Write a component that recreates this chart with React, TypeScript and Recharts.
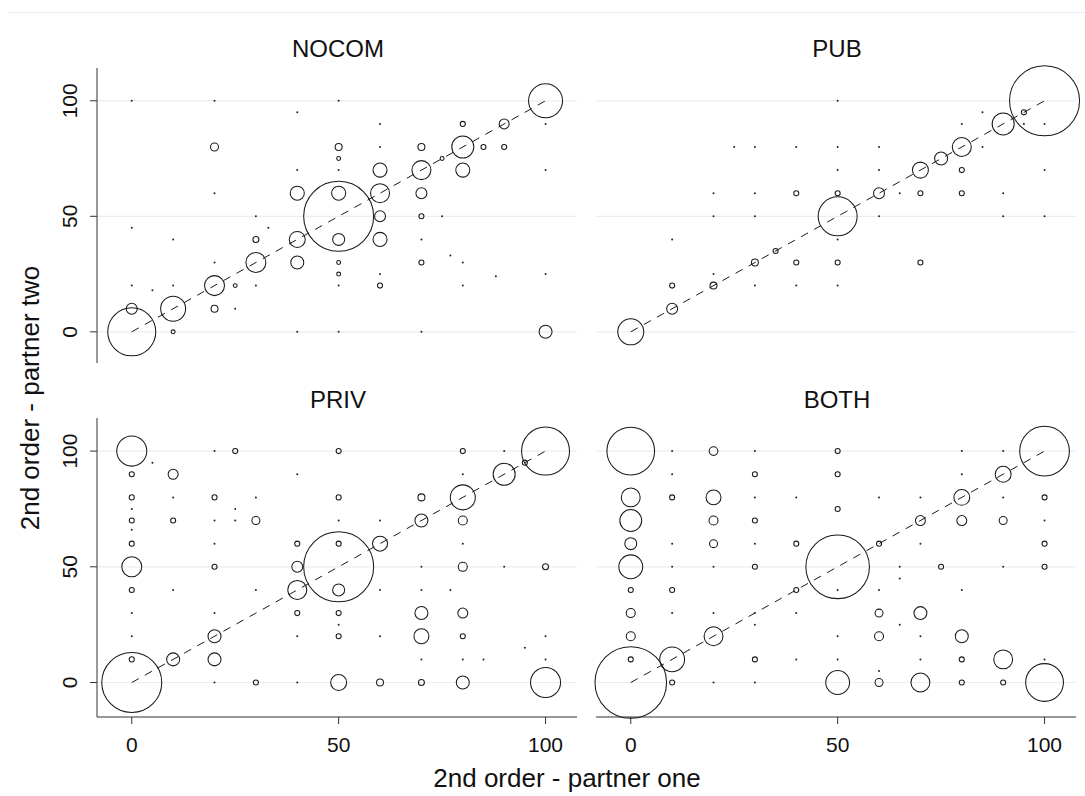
import React from "react";
import { ScatterChart, Scatter, XAxis, YAxis, ZAxis, ReferenceLine } from "recharts";

// ---------- data ----------
// each point: x = partner one, y = partner two, n = frequency (bubble area)
const nocomPoints = [
  { x: 0, y: 100, n: 1 }, { x: 20, y: 100, n: 1 }, { x: 50, y: 100, n: 1 }, { x: 40, y: 95, n: 1 },
  { x: 20, y: 80, n: 25 }, { x: 50, y: 80, n: 19 }, { x: 50, y: 75, n: 6 }, { x: 40, y: 70, n: 1 }, { x: 50, y: 70, n: 1 },
  { x: 20, y: 60, n: 1 }, { x: 40, y: 60, n: 77 }, { x: 50, y: 60, n: 77 },
  { x: 30, y: 50, n: 1 }, { x: 0, y: 45, n: 1 }, { x: 10, y: 40, n: 1 }, { x: 33, y: 45, n: 1 },
  { x: 30, y: 40, n: 14 }, { x: 40, y: 40, n: 100 }, { x: 50, y: 40, n: 56 },
  { x: 30, y: 30, n: 156 }, { x: 40, y: 30, n: 66 }, { x: 50, y: 30, n: 6 }, { x: 50, y: 25, n: 6 }, { x: 20, y: 30, n: 1 },
  { x: 20, y: 20, n: 156 }, { x: 25, y: 20, n: 6 }, { x: 0, y: 20, n: 1 }, { x: 10, y: 20, n: 1 }, { x: 30, y: 20, n: 1 },
  { x: 50, y: 20, n: 1 }, { x: 5, y: 18, n: 1 },
  { x: 10, y: 10, n: 244 }, { x: 0, y: 10, n: 47 }, { x: 20, y: 10, n: 19 }, { x: 25, y: 10, n: 1 },
  { x: 0, y: 0, n: 900 }, { x: 10, y: 0, n: 6 }, { x: 40, y: 0, n: 1 }, { x: 50, y: 0, n: 1 },
  { x: 100, y: 100, n: 452 }, { x: 60, y: 90, n: 1 }, { x: 80, y: 90, n: 10 }, { x: 90, y: 90, n: 39 }, { x: 100, y: 90, n: 1 },
  { x: 60, y: 80, n: 1 }, { x: 70, y: 80, n: 19 }, { x: 80, y: 80, n: 189 }, { x: 85, y: 80, n: 10 }, { x: 90, y: 80, n: 10 },
  { x: 75, y: 75, n: 6 }, { x: 60, y: 70, n: 77 }, { x: 70, y: 70, n: 141 }, { x: 80, y: 70, n: 77 }, { x: 100, y: 70, n: 1 },
  { x: 60, y: 60, n: 141 }, { x: 70, y: 60, n: 47 }, { x: 60, y: 50, n: 47 }, { x: 70, y: 50, n: 10 }, { x: 75, y: 50, n: 1 },
  { x: 60, y: 40, n: 77 }, { x: 70, y: 40, n: 1 }, { x: 77, y: 33, n: 1 }, { x: 80, y: 30, n: 1 }, { x: 70, y: 30, n: 10 },
  { x: 60, y: 25, n: 1 }, { x: 88, y: 24, n: 1 }, { x: 100, y: 25, n: 1 }, { x: 60, y: 20, n: 10 }, { x: 80, y: 20, n: 1 },
  { x: 70, y: 0, n: 1 }, { x: 100, y: 0, n: 66 }, { x: 50, y: 50, n: 1914 },
];

const pubPoints = [
  { x: 25, y: 80, n: 1 }, { x: 30, y: 80, n: 1 }, { x: 40, y: 80, n: 1 }, { x: 20, y: 60, n: 1 }, { x: 30, y: 60, n: 1 },
  { x: 40, y: 60, n: 10 }, { x: 20, y: 50, n: 1 }, { x: 30, y: 50, n: 1 }, { x: 10, y: 40, n: 1 }, { x: 10, y: 20, n: 10 },
  { x: 20, y: 25, n: 1 }, { x: 20, y: 20, n: 19 }, { x: 30, y: 20, n: 1 }, { x: 40, y: 20, n: 1 }, { x: 30, y: 30, n: 19 },
  { x: 40, y: 30, n: 10 }, { x: 35, y: 35, n: 10 }, { x: 10, y: 10, n: 47 }, { x: 0, y: 0, n: 264 },
  { x: 50, y: 100, n: 1 }, { x: 85, y: 95, n: 1 }, { x: 95, y: 95, n: 10 }, { x: 100, y: 100, n: 1914 }, { x: 80, y: 90, n: 1 },
  { x: 95, y: 90, n: 1 }, { x: 100, y: 90, n: 1 }, { x: 90, y: 90, n: 189 }, { x: 50, y: 80, n: 1 }, { x: 60, y: 80, n: 1 },
  { x: 80, y: 80, n: 141 }, { x: 85, y: 80, n: 1 }, { x: 75, y: 75, n: 66 }, { x: 50, y: 70, n: 1 }, { x: 60, y: 70, n: 1 },
  { x: 70, y: 70, n: 100 }, { x: 80, y: 70, n: 10 }, { x: 100, y: 70, n: 1 }, { x: 50, y: 60, n: 10 }, { x: 60, y: 60, n: 47 },
  { x: 65, y: 60, n: 1 }, { x: 70, y: 60, n: 10 }, { x: 80, y: 60, n: 10 }, { x: 90, y: 60, n: 1 }, { x: 50, y: 50, n: 594 },
  { x: 60, y: 50, n: 1 }, { x: 90, y: 50, n: 1 }, { x: 100, y: 50, n: 1 }, { x: 50, y: 40, n: 1 }, { x: 50, y: 30, n: 10 },
  { x: 70, y: 30, n: 10 }, { x: 50, y: 20, n: 1 },
];

const privPoints = [
  { x: 0, y: 100, n: 352 }, { x: 20, y: 100, n: 1 }, { x: 25, y: 100, n: 10 }, { x: 50, y: 100, n: 10 }, { x: 5, y: 95, n: 1 },
  { x: 0, y: 90, n: 10 }, { x: 10, y: 90, n: 39 }, { x: 40, y: 90, n: 1 },
  { x: 0, y: 80, n: 10 }, { x: 10, y: 80, n: 1 }, { x: 20, y: 80, n: 10 }, { x: 30, y: 80, n: 1 }, { x: 50, y: 80, n: 10 },
  { x: 0, y: 75, n: 1 }, { x: 25, y: 75, n: 1 },
  { x: 0, y: 70, n: 10 }, { x: 10, y: 70, n: 10 }, { x: 20, y: 70, n: 1 }, { x: 25, y: 70, n: 1 }, { x: 30, y: 70, n: 25 }, { x: 50, y: 70, n: 1 },
  { x: 0, y: 66, n: 1 },
  { x: 0, y: 60, n: 10 }, { x: 20, y: 60, n: 1 }, { x: 40, y: 60, n: 10 }, { x: 50, y: 60, n: 10 },
  { x: 0, y: 50, n: 156 }, { x: 20, y: 50, n: 10 }, { x: 40, y: 50, n: 47 },
  { x: 0, y: 40, n: 10 }, { x: 10, y: 40, n: 1 }, { x: 30, y: 40, n: 1 }, { x: 40, y: 40, n: 141 }, { x: 50, y: 40, n: 56 },
  { x: 0, y: 30, n: 1 }, { x: 20, y: 30, n: 1 }, { x: 40, y: 30, n: 10 }, { x: 50, y: 30, n: 10 }, { x: 50, y: 25, n: 1 },
  { x: 0, y: 20, n: 1 }, { x: 20, y: 20, n: 66 }, { x: 40, y: 20, n: 1 }, { x: 50, y: 20, n: 10 },
  { x: 0, y: 10, n: 10 }, { x: 10, y: 10, n: 66 }, { x: 20, y: 10, n: 66 },
  { x: 0, y: 0, n: 1406 }, { x: 20, y: 0, n: 1 }, { x: 30, y: 0, n: 10 }, { x: 40, y: 0, n: 1 }, { x: 50, y: 0, n: 100 },
  { x: 80, y: 100, n: 10 }, { x: 90, y: 100, n: 1 }, { x: 100, y: 100, n: 900 }, { x: 95, y: 95, n: 10 }, { x: 80, y: 90, n: 1 },
  { x: 90, y: 90, n: 189 },
  { x: 70, y: 80, n: 19 }, { x: 80, y: 80, n: 244 }, { x: 60, y: 70, n: 1 }, { x: 70, y: 70, n: 66 }, { x: 80, y: 70, n: 32 },
  { x: 60, y: 60, n: 88 }, { x: 80, y: 60, n: 1 }, { x: 70, y: 50, n: 1 }, { x: 80, y: 50, n: 32 }, { x: 90, y: 50, n: 1 },
  { x: 100, y: 50, n: 14 }, { x: 50, y: 50, n: 1914 },
  { x: 60, y: 40, n: 1 }, { x: 70, y: 40, n: 1 }, { x: 77, y: 40, n: 1 }, { x: 70, y: 30, n: 66 }, { x: 80, y: 30, n: 39 },
  { x: 60, y: 20, n: 1 }, { x: 70, y: 20, n: 88 }, { x: 80, y: 20, n: 10 }, { x: 100, y: 20, n: 1 }, { x: 95, y: 15, n: 1 },
  { x: 70, y: 10, n: 1 }, { x: 80, y: 10, n: 1 }, { x: 85, y: 10, n: 1 }, { x: 100, y: 10, n: 1 },
  { x: 60, y: 0, n: 19 }, { x: 70, y: 0, n: 14 }, { x: 80, y: 0, n: 66 }, { x: 100, y: 0, n: 352 },
];

const bothPoints = [
  { x: 0, y: 100, n: 900 }, { x: 10, y: 100, n: 1 }, { x: 20, y: 100, n: 30 }, { x: 30, y: 100, n: 1 }, { x: 50, y: 100, n: 10 },
  { x: 10, y: 90, n: 1 }, { x: 30, y: 90, n: 10 }, { x: 50, y: 90, n: 10 },
  { x: 0, y: 80, n: 141 }, { x: 10, y: 80, n: 10 }, { x: 20, y: 80, n: 88 }, { x: 30, y: 80, n: 1 }, { x: 40, y: 80, n: 1 },
  { x: 50, y: 75, n: 10 },
  { x: 0, y: 70, n: 189 }, { x: 20, y: 70, n: 32 }, { x: 30, y: 70, n: 10 },
  { x: 0, y: 60, n: 56 }, { x: 10, y: 60, n: 1 }, { x: 20, y: 60, n: 25 }, { x: 30, y: 60, n: 1 }, { x: 40, y: 60, n: 10 },
  { x: 0, y: 50, n: 225 }, { x: 10, y: 50, n: 1 }, { x: 20, y: 50, n: 1 }, { x: 30, y: 50, n: 10 },
  { x: 0, y: 40, n: 10 }, { x: 10, y: 40, n: 10 }, { x: 40, y: 40, n: 10 },
  { x: 0, y: 30, n: 32 }, { x: 10, y: 30, n: 1 }, { x: 20, y: 30, n: 1 }, { x: 30, y: 30, n: 1 }, { x: 40, y: 30, n: 1 },
  { x: 30, y: 25, n: 1 },
  { x: 0, y: 20, n: 32 }, { x: 20, y: 20, n: 141 },
  { x: 0, y: 10, n: 10 }, { x: 10, y: 10, n: 244 }, { x: 30, y: 10, n: 10 }, { x: 40, y: 10, n: 1 },
  { x: 0, y: 0, n: 2025 }, { x: 10, y: 0, n: 10 }, { x: 20, y: 0, n: 1 }, { x: 30, y: 0, n: 1 }, { x: 50, y: 0, n: 225 },
  { x: 80, y: 100, n: 1 }, { x: 90, y: 100, n: 1 }, { x: 100, y: 100, n: 977 }, { x: 80, y: 90, n: 1 }, { x: 90, y: 90, n: 100 },
  { x: 60, y: 80, n: 1 }, { x: 70, y: 80, n: 1 }, { x: 80, y: 80, n: 100 }, { x: 90, y: 80, n: 1 }, { x: 100, y: 80, n: 10 },
  { x: 70, y: 70, n: 39 }, { x: 80, y: 70, n: 39 }, { x: 90, y: 70, n: 25 }, { x: 100, y: 70, n: 1 },
  { x: 60, y: 60, n: 10 }, { x: 70, y: 60, n: 1 }, { x: 100, y: 60, n: 10 },
  { x: 50, y: 50, n: 1600 }, { x: 65, y: 50, n: 1 }, { x: 75, y: 50, n: 10 }, { x: 90, y: 50, n: 1 }, { x: 100, y: 50, n: 10 },
  { x: 65, y: 45, n: 1 },
  { x: 50, y: 40, n: 1 }, { x: 60, y: 40, n: 1 }, { x: 80, y: 40, n: 1 },
  { x: 60, y: 30, n: 25 }, { x: 70, y: 30, n: 66 }, { x: 65, y: 25, n: 1 },
  { x: 50, y: 20, n: 1 }, { x: 60, y: 20, n: 32 }, { x: 70, y: 20, n: 1 }, { x: 80, y: 20, n: 66 },
  { x: 50, y: 10, n: 1 }, { x: 70, y: 10, n: 1 }, { x: 80, y: 10, n: 10 }, { x: 90, y: 10, n: 141 }, { x: 100, y: 10, n: 1 },
  { x: 60, y: 5, n: 1 },
  { x: 60, y: 0, n: 25 }, { x: 70, y: 0, n: 141 }, { x: 80, y: 0, n: 10 }, { x: 90, y: 0, n: 10 }, { x: 100, y: 0, n: 564 },
];

const panelTitles = ["NOCOM", "PUB", "PRIV", "BOTH"];
const xTicks = [0, 50, 100];
const yTicks = [0, 50, 100];
const diagonal = [{ x: 0, y: 0 }, { x: 100, y: 100 }];
const xAxisTitle = "2nd order - partner one";
const yAxisTitle = "2nd order - partner two";

// ---------- styling ----------
const FONT = '"Liberation Sans", Arial, Helvetica, sans-serif';
const INK = "#111111";
const AXIS = "#333333";
const GRID = "#e7eff1";
const X_DOMAIN: [number, number] = [-8.4, 107.6];
const N_MAX = 2000;
const AREA_MAX = 4021; // area proportional to n

function YTick(props: any) {
  const { x, y, payload } = props;
  return (
    <text
      x={x}
      y={y}
      transform={`rotate(-90 ${x} ${y})`}
      textAnchor="middle"
      fontSize={21}
      fill={INK}
      fontFamily={FONT}
    >
      {payload.value}
    </text>
  );
}

function Bubble(props: any) {
  const { cx, cy, size, width } = props;
  if (cx == null || cy == null) return null;
  let r = typeof size === "number" ? Math.sqrt(Math.max(size, 0) / Math.PI) : (width || 0) / 2;
  if (r < 1.4) {
    return <circle cx={cx} cy={cy} r={1} fill="#222" stroke="none" />;
  }
  return <circle cx={cx} cy={cy} r={r} fill="none" stroke="#1a1a1a" strokeWidth={1.05} />;
}

type PanelProps = {
  data: { x: number; y: number; n: number }[];
  left: number;
  top: number;
  width: number;
  height: number;
  margin: { top: number; right: number; bottom: number; left: number };
  showX: boolean;
  showY: boolean;
  yDomain: [number, number];
};

function Panel({ data, left, top, width, height, margin, showX, showY, yDomain }: PanelProps) {
  return (
    <div style={{ position: "absolute", left, top }}>
      <ScatterChart width={width} height={height} margin={margin}>
        <XAxis
          type="number"
          dataKey="x"
          domain={X_DOMAIN}
          ticks={xTicks}
          hide={!showX}
          height={50}
          tickSize={7}
          tickMargin={13}
          stroke={AXIS}
          tick={{ fontSize: 21, fill: INK, fontFamily: FONT }}
          axisLine={{ stroke: AXIS }}
          tickLine={{ stroke: AXIS }}
        />
        <YAxis
          type="number"
          dataKey="y"
          domain={yDomain}
          ticks={yTicks}
          hide={!showY}
          width={97}
          tickSize={7}
          tickMargin={13}
          stroke={AXIS}
          tick={<YTick />}
          axisLine={{ stroke: AXIS }}
          tickLine={{ stroke: AXIS }}
        />
        <ZAxis type="number" dataKey="n" domain={[0, N_MAX]} range={[0, AREA_MAX]} />
        {yTicks.map((t) => (
          <ReferenceLine key={t} y={t} stroke={GRID} strokeWidth={1.2} />
        ))}
        <ReferenceLine
          segment={diagonal}
          stroke="#1a1a1a"
          strokeWidth={1}
          strokeDasharray="8 7"
        />
        <Scatter
          data={data}
          fill="none"
          stroke="#1a1a1a"
          shape={<Bubble />}
          isAnimationActive={false}
        />
      </ScatterChart>
    </div>
  );
}

export default function App() {
  return (
    <div
      style={{
        position: "absolute",
        left: 0,
        top: 0,
        width: 1085,
        height: 796,
        overflow: "hidden",
        background: "#ffffff",
        fontFamily: FONT,
      }}
    >
      <div style={{ position: "absolute", left: 8, top: 12, width: 1077, height: 1, background: "#e6edf0" }} />
      <Panel
        data={nocomPoints}
        left={0}
        top={28}
        width={600}
        height={345}
        margin={{ top: 40, right: 23, bottom: 10, left: 0 }}
        showX={false}
        showY={true}
        yDomain={[-13.5, 114.2]}
      />
      <Panel
        data={pubPoints}
        left={560}
        top={28}
        width={540}
        height={345}
        margin={{ top: 40, right: 24, bottom: 10, left: 36 }}
        showX={false}
        showY={false}
        yDomain={[-13.5, 114.2]}
      />
      <Panel
        data={privPoints}
        left={0}
        top={378}
        width={600}
        height={389}
        margin={{ top: 40, right: 23, bottom: 0, left: 0 }}
        showX={true}
        showY={true}
        yDomain={[-14.9, 114.3]}
      />
      <Panel
        data={bothPoints}
        left={560}
        top={378}
        width={540}
        height={389}
        margin={{ top: 40, right: 24, bottom: 0, left: 36 }}
        showX={true}
        showY={false}
        yDomain={[-14.9, 114.3]}
      />
      <svg
        width={1085}
        height={796}
        style={{ position: "absolute", left: 0, top: 0, pointerEvents: "none" }}
      >
        <text x={338} y={57} textAnchor="middle" fontSize={24} fill={INK} fontFamily={FONT}>
          {panelTitles[0]}
        </text>
        <text x={837} y={57} textAnchor="middle" fontSize={24} fill={INK} fontFamily={FONT}>
          {panelTitles[1]}
        </text>
        <text x={338} y={408} textAnchor="middle" fontSize={24} fill={INK} fontFamily={FONT}>
          {panelTitles[2]}
        </text>
        <text x={837} y={408} textAnchor="middle" fontSize={24} fill={INK} fontFamily={FONT}>
          {panelTitles[3]}
        </text>
        <text x={567} y={787} textAnchor="middle" fontSize={26} fill={INK} fontFamily={FONT}>
          {xAxisTitle}
        </text>
        <text
          x={39}
          y={398}
          transform="rotate(-90 39 398)"
          textAnchor="middle"
          fontSize={26}
          fill={INK}
          fontFamily={FONT}
        >
          {yAxisTitle}
        </text>
      </svg>
    </div>
  );
}
